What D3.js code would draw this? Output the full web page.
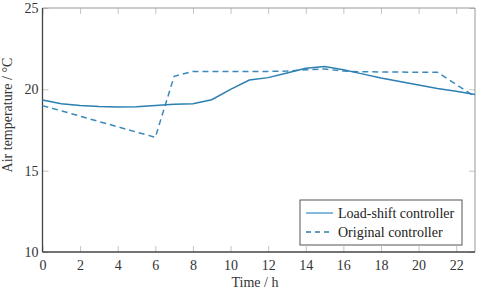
<!DOCTYPE html>
<html>
<head>
<meta charset="utf-8">
<script src="https://cdn.jsdelivr.net/npm/d3@7"></script>
<style>
  body { margin: 0; background: #fff; }
  svg { display: block; }
  svg text { font-family: "Liberation Serif", "Times New Roman", serif; }
</style>
</head>
<body>
<svg id="chart"></svg>
<script>
// hours 0..23
const hours = d3.range(0, 24);
const loadShift = [19.35, 19.12, 19.0, 18.94, 18.91, 18.93, 19.0, 19.08, 19.12, 19.36, 20.0, 20.57,
                   20.72, 21.0, 21.3, 21.4, 21.2, 20.95, 20.7, 20.48, 20.27, 20.05, 19.88, 19.68];
const original = [19.0, 18.68, 18.35, 18.02, 17.7, 17.37, 17.05, 20.8, 21.1, 21.1, 21.1, 21.1,
                  21.1, 21.12, 21.2, 21.25, 21.12, 21.08, 21.07, 21.06, 21.05, 21.05, 20.3, 19.55];
const xTicks = [0, 2, 4, 6, 8, 10, 12, 14, 16, 18, 20, 22];
const yTicks = [10, 15, 20, 25];
const seriesNames = ["Load-shift controller", "Original controller"];

const width = 479, height = 292;
const margin = { top: 8, right: 4, bottom: 40, left: 42.5 };
const iw = width - margin.left - margin.right;
const ih = height - margin.top - margin.bottom;
const serif = "Liberation Serif";

const svg = d3.select("#chart").attr("width", width).attr("height", height);
const g = svg.append("g").attr("transform", `translate(${margin.left},${margin.top})`);

const x = d3.scaleLinear().domain([0, 23]).range([0, iw]);
const y = d3.scaleLinear().domain([10, 25]).range([ih, 0]);

// ticks pointing inward, light grey, mirrored on top/right
const tickCol = "#c4c4c4";
function styleAxis(a) {
  a.attr("font-family", serif).attr("font-size", 14);
  a.select(".domain").remove();
  a.selectAll("line").attr("stroke", tickCol);
  a.selectAll("text").attr("fill", "#333");
}
g.append("g").attr("transform", `translate(0,${ih})`)
  .call(d3.axisBottom(x).tickValues(xTicks).tickSize(-6).tickPadding(8).tickFormat(d3.format("d")))
  .call(styleAxis);
g.append("g")
  .call(d3.axisTop(x).tickValues(xTicks).tickSize(-6).tickFormat(""))
  .call(styleAxis);
g.append("g")
  .call(d3.axisLeft(y).tickValues(yTicks).tickSize(-6).tickPadding(4))
  .call(styleAxis);
g.append("g").attr("transform", `translate(${iw},0)`)
  .call(d3.axisRight(y).tickValues(yTicks).tickSize(-6).tickFormat(""))
  .call(styleAxis);

// frame
g.append("line").attr("x1", 0).attr("x2", iw).attr("y1", 0).attr("y2", 0).attr("stroke", "#999").attr("stroke-width", 1);
g.append("line").attr("x1", iw).attr("x2", iw).attr("y1", 0).attr("y2", ih).attr("stroke", "#999").attr("stroke-width", 1);
g.append("line").attr("x1", 0).attr("x2", 0).attr("y1", 0).attr("y2", ih).attr("stroke", "#444").attr("stroke-width", 1.3);
g.append("line").attr("x1", 0).attr("x2", iw).attr("y1", ih).attr("y2", ih).attr("stroke", "#444").attr("stroke-width", 1.3);

const line = d3.line().x((d, i) => x(hours[i])).y(d => y(d));
const blue = "#2b7fb1";

g.append("path").datum(original)
  .attr("d", line).attr("fill", "none")
  .attr("stroke", "#3a89ba").attr("stroke-width", 1.5)
  .attr("stroke-dasharray", "6,4");
g.append("path").datum(loadShift)
  .attr("d", line).attr("fill", "none")
  .attr("stroke", blue).attr("stroke-width", 1.5);

// axis titles
svg.append("text")
  .attr("x", 255).attr("y", 287)
  .attr("text-anchor", "middle")
  .attr("fill", "#333")
  .attr("font-family", serif)
  .style("font-size", "14px")
  .text("Time / h");
svg.append("text")
  .attr("transform", `translate(12,${115}) rotate(-90)`)
  .attr("text-anchor", "middle")
  .attr("fill", "#333")
  .attr("font-family", serif)
  .style("font-size", "14px")
  .text("Air temperature / °C");

// legend
const lg = svg.append("g").attr("transform", "translate(300,200)");
lg.append("rect").attr("width", 162).attr("height", 45)
  .attr("fill", "#fff").attr("stroke", "#555").attr("stroke-width", 1);
seriesNames.forEach((name, i) => {
  const yy = 13 + i * 19;
  lg.append("line").attr("x1", 6).attr("x2", 33).attr("y1", yy).attr("y2", yy)
    .attr("stroke", i === 0 ? "#5aa2cf" : blue).attr("stroke-width", 1.5)
    .attr("stroke-dasharray", i === 0 ? null : "5,4");
  lg.append("text").attr("x", 38).attr("y", yy + 4.5)
    .attr("fill", "#222").attr("font-family", serif).style("font-size", "14px")
    .text(name);
});
</script>
</body>
</html>
